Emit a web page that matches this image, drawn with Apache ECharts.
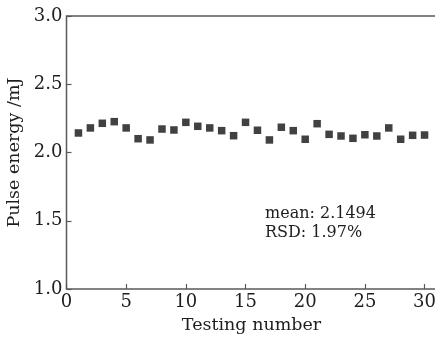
<!DOCTYPE html>
<html>
<head>
<meta charset="utf-8">
<script src="https://cdn.jsdelivr.net/npm/echarts@6/dist/echarts.min.js"></script>
<style>
  html, body { margin: 0; padding: 0; background: #fff; }
  #chart { width: 435px; height: 337px; }
</style>
</head>
<body>
<div id="chart"></div>
<script>
// 测试序号与脉冲能量 (mJ)
var testNumbers = [1, 2, 3, 4, 5, 6, 7, 8, 9, 10, 11, 12, 13, 14, 15,
                   16, 17, 18, 19, 20, 21, 22, 23, 24, 25, 26, 27, 28, 29, 30];
var pulseEnergy = [2.143, 2.180, 2.214, 2.226, 2.180, 2.101, 2.092, 2.172, 2.165, 2.221,
                   2.192, 2.180, 2.160, 2.123, 2.221, 2.163, 2.092, 2.185, 2.160, 2.097,
                   2.211, 2.133, 2.121, 2.104, 2.130, 2.121, 2.180, 2.097, 2.126, 2.128];
var statLines = ['mean: 2.1494', 'RSD: 1.97%'];

var font = 'DejaVu Serif';
var axisColor = '#5a5a5a';
var textColor = '#1e1e1e';

var myChart = echarts.init(document.getElementById('chart'));

var option = {
    backgroundColor: '#fff',
    animation: false,
    grid: {
        left: 66.5,
        top: 16,
        height: 273,
        width: 370,
        outerBoundsMode: 'none',
        containLabel: false,
        show: true,
        borderColor: axisColor,
        borderWidth: 1.5,
        backgroundColor: 'transparent'
    },
    xAxis: {
        type: 'value',
        min: 0,
        max: 31,
        interval: 5,
        name: 'Testing number',
        nameLocation: 'middle',
        nameGap: 27,
        nameTextStyle: { fontFamily: font, fontSize: 17.5, color: textColor },
        axisLine: { show: false },
        axisTick: { show: true, inside: true, length: 5, lineStyle: { color: axisColor, width: 1.2 } },
        axisLabel: {
            fontFamily: font, fontSize: 18, color: textColor, margin: 4,
            showMaxLabel: false,
            formatter: function (v) { return v <= 30 ? String(v) : ''; }
        },
        splitLine: { show: false }
    },
    yAxis: {
        type: 'value',
        min: 1.0,
        max: 3.0,
        interval: 0.5,
        name: 'Pulse energy /mJ',
        nameLocation: 'middle',
        nameGap: 37,
        nameTextStyle: { fontFamily: font, fontSize: 17.5, color: textColor },
        axisLine: { show: false },
        axisTick: { show: true, inside: true, length: 5, lineStyle: { color: axisColor, width: 1.2 } },
        axisLabel: {
            fontFamily: font, fontSize: 18, color: textColor, margin: 4,
            formatter: function (v) { return v.toFixed(1); }
        },
        splitLine: { show: false }
    },
    graphic: [
        {
            type: 'text', left: 265, top: 206,
            style: { text: statLines[0], font: '16px "DejaVu Serif"', fill: textColor }
        },
        {
            type: 'text', left: 265, top: 225,
            style: { text: statLines[1], font: '16px "DejaVu Serif"', fill: textColor }
        }
    ],
    series: [{
        type: 'scatter',
        symbol: 'rect',
        symbolSize: 7.5,
        itemStyle: { color: '#111' },
        data: testNumbers.map(function (n, i) { return [n, pulseEnergy[i]]; })
    }]
};

myChart.setOption(option);
</script>
</body>
</html>
